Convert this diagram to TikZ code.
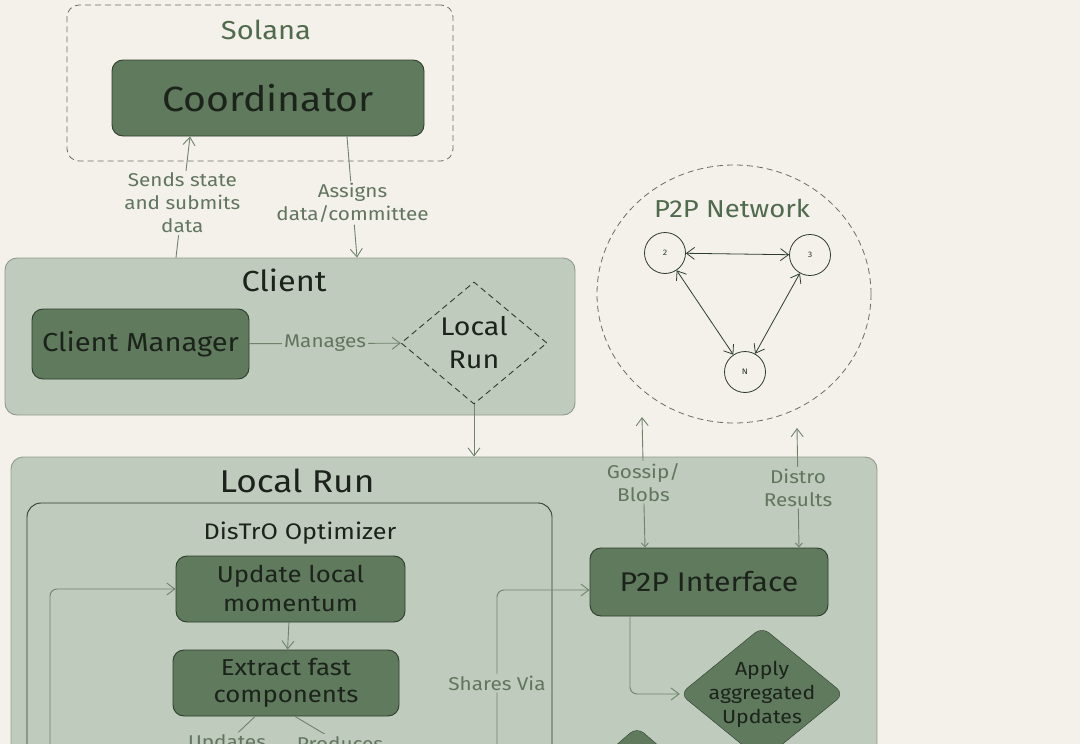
\documentclass[tikz,border=0pt]{standalone}
\usepackage{fontspec}
\setmainfont{Fira Sans}[FakeStretch=1.12]
\usetikzlibrary{shapes.geometric,arrows.meta,positioning}

\definecolor{bgcol}{HTML}{F4F1EA}
\definecolor{sage}{HTML}{BFCBBD}
\definecolor{sageline}{HTML}{8E9C8C}
\definecolor{darkfill}{HTML}{5F7A5D}
\definecolor{darkline}{HTML}{2F3D2E}
\definecolor{txtdark}{HTML}{1B231A}
\definecolor{txtgreen}{HTML}{4F6A4D}
\definecolor{arrowcol}{HTML}{6F836D}
\definecolor{labcol}{HTML}{61755F}
\definecolor{dashcol}{HTML}{6A6D66}

\tikzset{
  container/.style={draw=sageline, fill=sage, rounded corners=12pt, line width=0.9pt, inner sep=0pt},
  darkbox/.style={draw=darkline, fill=darkfill, rounded corners=11pt, line width=0.9pt, text=txtdark, align=center},
  flow/.style={draw=arrowcol, line width=0.9pt, rounded corners=7pt, -{Straight Barb[length=8pt,width=12pt]}},
  flowlabel/.style={text=labcol, align=center, font=\fontsize{18.5}{23}\selectfont, inner sep=2pt},
  title/.style={text=txtdark, font=\fontsize{29}{31}\selectfont},
  sketchdash/.style={dash pattern=on 6pt off 4pt},
  peer/.style={circle, draw=darkline, line width=0.8pt, minimum size=41pt, inner sep=0pt, font=\fontsize{8}{9}\selectfont, text=darkline},
  meshlink/.style={draw=darkline, line width=0.8pt, {Straight Barb[length=8pt,width=12pt]}-{Straight Barb[length=8pt,width=12pt]}},
}

\begin{document}
\begin{tikzpicture}[x=1pt,y=-1pt]
\useasboundingbox (0,0) rectangle (1080,744);
\clip (0,0) rectangle (1080,744);
\fill[bgcol] (0,0) rectangle (1080,744);

% Solana
\node[draw=dashcol, sketchdash, rounded corners=12pt, line width=0.8pt, minimum width=386pt, minimum height=156pt] (solana) at (260,83) {};
\node[text=txtgreen, font=\fontsize{26}{28}\selectfont] (solanatitle) at (266,30) {Solana};
\node[darkbox, minimum width=312pt, minimum height=76pt, font=\fontsize{35}{37}\selectfont] (coord) at (268,98) {Coordinator};

% Client
\node[container, minimum width=570pt, minimum height=157pt] (client) at (290,336.5) {};
\node[title] (clienttitle) at (284,280) {Client};
\node[darkbox, minimum width=217pt, minimum height=70pt, font=\fontsize{26}{28}\selectfont] (manager) at (140.5,344) {Client Manager};
\node[diamond, draw=darkline, sketchdash, line width=0.9pt, aspect=1.2, minimum width=146pt, minimum height=122pt, inner sep=0pt, align=center, text=txtdark, font=\fontsize{25.5}{33}\selectfont] (localdiamond) at (474,343) {Local\\Run};

% P2P network
\node[ellipse, draw=dashcol, sketchdash, line width=0.8pt, minimum width=274pt, minimum height=258pt] (network) at (734,294) {};
\node[text=txtgreen, font=\fontsize{24.5}{26}\selectfont] (networktitle) at (732,208) {P2P Network};
\node[peer] (peertwo) at (665,253) {2};
\node[peer] (peerthree) at (810,255) {3};
\node[peer] (peern) at (745,372) {N};
\draw[meshlink] (peertwo) -- (peerthree);
\draw[meshlink] (peertwo) -- (peern);
\draw[meshlink] (peerthree) -- (peern);

% Local Run
\node[container, minimum width=866pt, minimum height=493pt] (localrun) at (444,703.5) {};
\node[title, font=\fontsize{31.5}{33}\selectfont] (localtitle) at (297,481) {Local Run};
\node[draw=darkline, fill=sage, rounded corners=14pt, line width=0.9pt, minimum width=525pt, minimum height=394pt] (distro) at (289.5,700) {};
\node[text=txtdark, font=\fontsize{22.5}{24}\selectfont] (distrotitle) at (300,533) {DisTrO Optimizer};
\node[darkbox, minimum width=229pt, minimum height=66pt, font=\fontsize{23}{29}\selectfont] (update) at (290.5,589) {Update local\\momentum};
\node[darkbox, minimum width=226pt, minimum height=66pt, font=\fontsize{23}{27}\selectfont] (extract) at (286,683) {Extract fast\\components};
\node[darkbox, minimum width=238pt, minimum height=68pt, font=\fontsize{27}{29}\selectfont] (p2pif) at (709,582) {P2P Interface};
\node[diamond, draw=darkline, fill=darkfill, rounded corners=9pt, aspect=1.2, minimum width=164pt, minimum height=134pt, inner sep=-10pt, align=center, text=txtdark, font=\fontsize{19}{24}\selectfont] (apply) at (762,694) {Apply\\aggregated\\Updates};
\node[diamond, draw=darkline, fill=darkfill, rounded corners=9pt, aspect=1.2, minimum width=150pt, minimum height=130pt] (nextstep) at (637,792) {};

% Connectors
\coordinate (gossipend) at (642,417);
\coordinate (distroend) at (797,428);
\coordinate (loopfoot) at (50,780);
\coordinate (sharesfoot) at (497,776);
\coordinate (sharesbend) at (497,590);
\coordinate (updatesend) at (199,770);
\coordinate (producesend) at (385,770);

\draw[flow] ([xshift=-114pt]client.north) -- node[flowlabel, fill=bgcol, pos=0.45]{Sends state\\and submits\\data} ([xshift=-78pt]coord.south);
\draw[flow] ([xshift=79pt]coord.south) -- node[flowlabel, fill=bgcol, pos=0.55]{Assigns\\data/committee} ([xshift=67pt]client.north);
\draw[flow] (manager) -- node[flowlabel, fill=sage]{Manages} (localdiamond);
\draw[flow] (localdiamond.south) -- (localdiamond.south |- localrun.north);
\draw[flow, {Straight Barb[length=4pt,width=7pt]}-{Straight Barb[length=8pt,width=12pt]}] ([xshift=-64pt]p2pif.north) -- node[flowlabel, fill=sage]{Gossip/\\Blobs} (gossipend);
\draw[flow, {Straight Barb[length=4pt,width=7pt]}-{Straight Barb[length=8pt,width=12pt]}] ([xshift=90pt]p2pif.north) -- node[flowlabel, fill=sage]{Distro\\Results} (distroend);
\draw[flow] (update) -- (extract);
\draw[flow] (loopfoot) |- (update.west);
\draw[flow] (sharesfoot) -- node[flowlabel, fill=sage]{Shares Via} (sharesbend) -- ([yshift=-8pt]p2pif.west);
\draw[flow] ([xshift=-79pt]p2pif.south) |- (apply.west);
\draw[flow] ([xshift=-31pt]extract.south) -- node[flowlabel, fill=sage]{Updates} (updatesend);
\draw[flow] ([xshift=9pt]extract.south) -- node[flowlabel, fill=sage]{Produces} (producesend);
\end{tikzpicture}
\end{document}
